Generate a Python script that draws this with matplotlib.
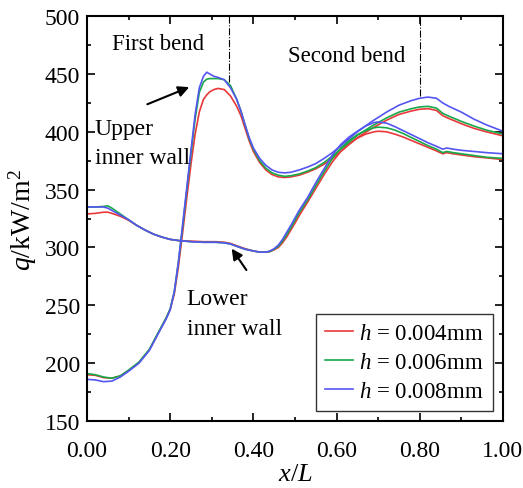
import matplotlib
matplotlib.use("Agg")
import matplotlib.pyplot as plt
from matplotlib.ticker import MultipleLocator, FormatStrFormatter

plt.rcParams['font.family'] = ['Liberation Serif', 'DejaVu Serif']
plt.rcParams['mathtext.fontset'] = 'custom'
plt.rcParams['mathtext.rm'] = 'Liberation Serif'
plt.rcParams['mathtext.it'] = 'Liberation Serif:italic'

# upper inner wall curves
x_up = [0, 0.02, 0.04, 0.06, 0.08, 0.10, 0.125, 0.15, 0.175, 0.19,
        0.20, 0.21, 0.22, 0.23, 0.24, 0.25, 0.26, 0.27, 0.28, 0.288,
        0.295, 0.305, 0.315, 0.33, 0.345, 0.36, 0.37, 0.38, 0.39, 0.40,
        0.415, 0.43, 0.445, 0.46, 0.475, 0.49, 0.51, 0.53, 0.55, 0.57,
        0.59, 0.62, 0.65, 0.685, 0.72, 0.75, 0.78, 0.80, 0.82, 0.84,
        0.855, 0.87, 0.90, 0.93, 0.96, 1.0]
up_004 = [190, 189.5, 187.5, 187, 189, 193.5, 200.5, 211.5, 228.5, 238.5,
          246.5, 260, 284, 313, 343, 372, 398, 417, 428, 432,
          434.5, 436.5, 437.5, 436.5, 431, 422, 414, 403, 392, 383,
          373.5, 367, 363, 361, 360.5, 361, 362.5, 365, 368, 372,
          377, 386, 395, 403, 410, 415, 418, 419.5, 420, 418.5,
          414, 411.5, 407, 403, 400, 396.5]
up_006 = [191, 190, 188, 187, 189, 194, 201, 212, 229, 239,
          247, 262, 288, 318, 350, 381, 411, 434, 443, 445.5,
          446, 446, 446, 445, 440, 428, 418, 406, 394, 385,
          375, 368.5, 364.5, 362.5, 361.5, 362, 363.5, 366, 369, 373.5,
          379, 388, 397, 405, 412, 417, 420, 421.5, 422, 420.5,
          416, 413.5, 409, 405, 401.5, 398]
up_008 = [186, 185.5, 184, 184.5, 188, 193, 200, 211, 228, 238,
          246, 262, 288, 320, 352, 384, 415, 438, 448, 451.5,
          450, 448, 447, 445, 438, 428, 418, 406, 395, 386,
          377, 371, 367, 365, 364.5, 365, 367, 369.5, 372.5, 377,
          382, 391, 400, 409, 417, 423, 427, 429, 430, 429,
          425, 422, 417, 411, 406, 400.5]

# lower inner wall curves
x_lo = [0, 0.02, 0.04, 0.05, 0.06, 0.08, 0.10, 0.12, 0.14, 0.16,
        0.18, 0.20, 0.22, 0.25, 0.28, 0.31, 0.33, 0.345, 0.36, 0.38,
        0.40, 0.415, 0.43, 0.44, 0.45, 0.46, 0.47, 0.48, 0.49, 0.50,
        0.51, 0.53, 0.55, 0.57, 0.59, 0.61, 0.63, 0.65, 0.67, 0.69,
        0.70, 0.72, 0.74, 0.76, 0.78, 0.80, 0.82, 0.84, 0.855, 0.865,
        0.88, 0.90, 0.93, 0.96, 1.0]
lo_004 = [329, 329.5, 330.5, 330.5, 329.5, 327, 323.5, 319, 315, 311.5,
          309, 307, 306, 305.5, 305, 305, 304.5, 303.5, 301.5, 299,
          297, 296, 296, 296.5, 298, 300, 304, 309, 315, 321,
          327.5, 339, 351, 363, 374, 383, 389.5, 394.5, 398, 400,
          400.5, 400, 398, 395.5, 392.5, 389.5, 386.5, 383.5, 381, 382,
          381, 380, 378.5, 377.5, 376]
lo_006 = [335, 335, 335.5, 336, 334, 329, 324, 319, 315, 311.5,
          309, 307, 306, 305, 304.5, 304.5, 304, 303, 301, 298.5,
          297, 296, 296, 296.5, 298.5, 301, 305.5, 311, 317, 323.5,
          330, 341, 353.5, 365.5, 377, 386, 392.5, 397.5, 401, 403.5,
          404, 403.5, 401.5, 398.5, 395, 391.5, 388, 385, 382, 383,
          382, 381, 379.5, 378, 377]
lo_008 = [335, 335, 335, 334, 332, 328, 324, 319, 315, 311.5,
          309, 307, 306, 305, 304.5, 304.5, 304, 303, 301, 298.5,
          297, 296, 296, 297, 299, 302, 307, 313, 319, 325.5,
          332, 343, 356, 368, 380, 389, 395.5, 400.5, 405, 408,
          408.5, 407.5, 404.5, 401, 397.5, 394, 390.5, 387.5, 385, 386,
          385, 384, 383, 382, 381]

labels = ['$h$ = 0.004mm', '$h$ = 0.006mm', '$h$ = 0.008mm']
colors = ['#e8383a', '#18a84a', '#5555f2']

fig = plt.figure(figsize=(5.23, 4.89), dpi=100)
ax = fig.add_axes([0.1663, 0.137, 0.7954, 0.828])

for up, lo, c, lab in zip([up_004, up_006, up_008], [lo_004, lo_006, lo_008], colors, labels):
    ax.plot(x_up, up, color=c, lw=1.2, label=lab)
    ax.plot(x_lo, lo, color=c, lw=1.2)

# bend markers
ax.vlines(0.341, 443, 500, colors='k', linestyles='dashdot', lw=0.8)
ax.vlines(0.80, 431, 500, colors='k', linestyles='dashdot', lw=0.8)

ax.text(0.06, 471.3, 'First bend', fontsize=16.5)
ax.text(0.483, 461, 'Second bend', fontsize=16.5)
ax.text(0.019, 397.8, 'Upper', fontsize=17)
ax.text(0.019, 373.3, 'inner wall', fontsize=17)
ax.text(0.24, 250.8, 'Lower', fontsize=17)
ax.text(0.24, 224.9, 'inner wall', fontsize=17)

ax.annotate('', xy=(0.252, 439.5), xytext=(0.139, 422.9),
            arrowprops=dict(arrowstyle='-|>', color='k', lw=1.5, mutation_scale=16))
ax.annotate('', xy=(0.344, 301), xytext=(0.387, 278.5),
            arrowprops=dict(arrowstyle='-|>', color='k', lw=1.5, mutation_scale=16))

ax.set_xlim(0, 1)
ax.set_ylim(150, 500)
ax.xaxis.set_major_locator(MultipleLocator(0.2))
ax.xaxis.set_minor_locator(MultipleLocator(0.1))
ax.yaxis.set_major_locator(MultipleLocator(50))
ax.yaxis.set_minor_locator(MultipleLocator(25))
ax.xaxis.set_major_formatter(FormatStrFormatter('%.2f'))
ax.tick_params(which='both', direction='in', top=True, right=True, labelsize=17, width=1.2)
ax.tick_params(which='major', length=6)
ax.tick_params(which='minor', length=3)
ax.tick_params(axis='x', which='major', pad=14)
ax.tick_params(axis='y', which='major', pad=5)
for s in ax.spines.values():
    s.set_linewidth(1.5)

ax.set_xlabel('$x$/$L$', fontsize=19, labelpad=1)
ax.set_ylabel('$q$/kW/m$^2$', fontsize=20, labelpad=4)

leg = ax.legend(loc='lower right', fontsize=16.5, frameon=True, fancybox=False,
                edgecolor='k', handlelength=1.2, handletextpad=0.3,
                borderpad=0.4, labelspacing=0.35, borderaxespad=0,
                bbox_to_anchor=(0.976, 0.024))
leg.get_frame().set_linewidth(1.0)

fig.savefig('out.png', dpi=100)
